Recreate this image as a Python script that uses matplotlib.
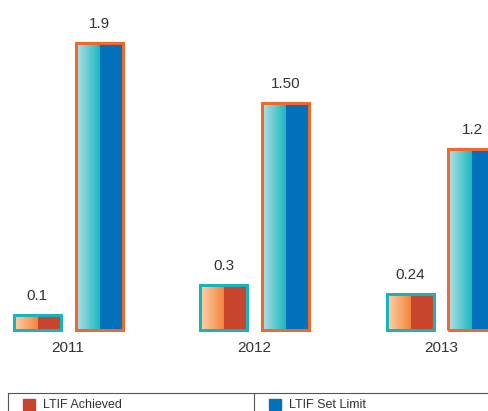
import numpy as np
import matplotlib
matplotlib.use("Agg")
import matplotlib.pyplot as plt
from matplotlib.colors import LinearSegmentedColormap
from matplotlib.patches import Rectangle
from matplotlib.lines import Line2D

# data
years = ["2011", "2012", "2013"]
achieved = [0.1, 0.3, 0.24]
set_limit = [1.9, 1.5, 1.2]
achieved_labels = ["0.1", "0.3", "0.24"]
limit_labels = ["1.9", "1.50", "1.2"]

# colours
ach_solid = "#c9442d"
ach_grad = ["#fdd3ad", "#f5853c"]
ach_edge = "#16b5bd"
lim_solid = "#0071ba"
lim_grad = ["#b6e0e4", "#18b9c0"]
lim_edge = "#f2672a"
txt_col = "#333333"

plt.rcParams["font.family"] = ["Liberation Sans", "DejaVu Sans"]

W, H = 488, 411
fig = plt.figure(figsize=(W / 100, H / 100), dpi=100)
ax = fig.add_axes([0, 0, 1, 1])
ax.axis("off")

x = np.arange(len(years))
width = 0.252
offset = 0.166
edge_lw = 2.16  # 3 px


def draw_series(pos, vals, solid, grad, edge):
    cmap = LinearSegmentedColormap.from_list("g", grad)
    bars = ax.bar(pos, vals, width, color=solid, linewidth=0, zorder=1)
    for b in bars:
        x0, w, h = b.get_x(), b.get_width(), b.get_height()
        ax.imshow(np.linspace(0, 1, 256).reshape(1, -1), cmap=cmap,
                  extent=(x0, x0 + w / 2, 0, h), aspect="auto",
                  interpolation="bilinear", zorder=2)
    ax.bar(pos, vals, width, fill=False, edgecolor=edge,
           linewidth=edge_lw, zorder=3, joinstyle="miter")
    return bars


b1 = draw_series(x - offset, achieved, ach_solid, ach_grad, ach_edge)
b2 = draw_series(x + offset, set_limit, lim_solid, lim_grad, lim_edge)
ax.set_xlim(-0.365, 2.252)
ax.set_ylim(-0.534, 2.184)

for bars, labels in ((b1, achieved_labels), (b2, limit_labels)):
    for b, lbl in zip(bars, labels):
        ax.annotate(lbl, xy=(b.get_x() + b.get_width() / 2, b.get_height()),
                    xytext=(0, 10.8), textcoords="offset points",
                    ha="center", va="baseline", fontsize=11, color=txt_col)

for xi, yr in zip(x, years):
    ax.annotate(yr, xy=(xi, 0), xytext=(0, -15.3), textcoords="offset points",
                ha="center", va="baseline", fontsize=11, color=txt_col)

# legend box along the bottom
def px(xp, yp):
    return xp / W, yp / H

line_col = "#555555"
fig.add_artist(Line2D([8.3 / W, 1], [18.3 / H] * 2, color=line_col, lw=0.8,
                      transform=fig.transFigure))
fig.add_artist(Line2D([8.3 / W] * 2, [0, 18.3 / H], color=line_col, lw=0.8,
                      transform=fig.transFigure))
fig.add_artist(Line2D([254 / W] * 2, [0, 18.3 / H], color=line_col, lw=0.8,
                      transform=fig.transFigure))

for sx, tx, col, name in ((23, 43, ach_solid, "LTIF Achieved"),
                          (269, 289, lim_solid, "LTIF Set Limit")):
    fig.add_artist(Rectangle(px(sx, 0.8), 12 / W, 11 / H, color=col,
                             transform=fig.transFigure))
    fig.text(*px(tx, 2.9), name, ha="left", va="baseline", fontsize=9,
             color=txt_col)

fig.savefig("out.png", dpi=100)
